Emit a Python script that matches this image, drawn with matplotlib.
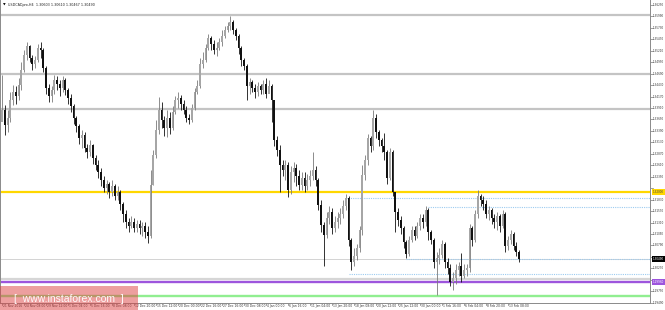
import matplotlib
matplotlib.use('Agg')
import matplotlib.pyplot as plt
import matplotlib.transforms as mtransforms
from matplotlib.patches import Rectangle

# USDCAD H4 candles, two H4 bars per candle here
first_open = 1.3360
closes = [
    1.3386, 1.3352, 1.3368, 1.3409, 1.3427, 1.3418, 1.3443, 1.3477, 1.3511, 1.3532,
    1.3504, 1.3491, 1.3500, 1.3527, 1.3523, 1.3482, 1.3436, 1.3418, 1.3432, 1.3454,
    1.3445, 1.3436, 1.3454, 1.3432, 1.3414, 1.3395, 1.3368, 1.3350, 1.3323, 1.3330,
    1.3300, 1.3291, 1.3307, 1.3277, 1.3261, 1.3246, 1.3227, 1.3209, 1.3218, 1.3200,
    1.3214, 1.3191, 1.3200, 1.3173, 1.3150, 1.3132, 1.3123, 1.3132, 1.3118, 1.3128,
    1.3118, 1.3123, 1.3109, 1.3100, 1.3216, 1.3284, 1.3341, 1.3386, 1.3364, 1.3345,
    1.3368, 1.3345, 1.3382, 1.3409, 1.3414, 1.3400, 1.3386, 1.3368, 1.3364, 1.3391,
    1.3427, 1.3441, 1.3491, 1.3500, 1.3527, 1.3550, 1.3536, 1.3523, 1.3527, 1.3541,
    1.3554, 1.3568, 1.3577, 1.3586, 1.3568, 1.3554, 1.3527, 1.3500, 1.3486, 1.3441,
    1.3450, 1.3436, 1.3427, 1.3441, 1.3432, 1.3445, 1.3423, 1.3441, 1.3409, 1.3318,
    1.3296, 1.3261, 1.3250, 1.3261, 1.3205, 1.3246, 1.3255, 1.3236, 1.3216, 1.3232,
    1.3214, 1.3227, 1.3236, 1.3250, 1.3227, 1.3171, 1.3125, 1.3103, 1.3141, 1.3155,
    1.3118, 1.3132, 1.3141, 1.3150, 1.3168, 1.3187, 1.3091, 1.3041, 1.3055, 1.3073,
    1.3114, 1.3239, 1.3273, 1.3323, 1.3305, 1.3368, 1.3336, 1.3318, 1.3305, 1.3291,
    1.3232, 1.3291, 1.3200, 1.3155, 1.3137, 1.3118, 1.3087, 1.3059, 1.3091, 1.3114,
    1.3100, 1.3123, 1.3141, 1.3132, 1.3159, 1.3109, 1.3091, 1.3041, 1.3050, 1.3057,
    1.3082, 1.3041, 1.3028, 1.2996, 1.3005, 1.3023, 1.3032, 1.3009, 1.3023, 1.3028,
    1.3118, 1.3091, 1.3150, 1.3191, 1.3182, 1.3173, 1.3150, 1.3159, 1.3141, 1.3132,
    1.3146, 1.3123, 1.3150, 1.3078, 1.3091, 1.3105, 1.3078, 1.3064, 1.3049,
]
highs = [
    1.3466, 1.3398, 1.3386, 1.3427, 1.3443, 1.3441, 1.3459, 1.3495, 1.3523, 1.3541,
    1.3534, 1.3511, 1.3509, 1.3536, 1.3541, 1.3527, 1.3486, 1.3445, 1.3441, 1.3466,
    1.3463, 1.3454, 1.3463, 1.3459, 1.3436, 1.3423, 1.3400, 1.3373, 1.3355, 1.3341,
    1.3336, 1.3309, 1.3318, 1.3309, 1.3284, 1.3273, 1.3255, 1.3236, 1.3227, 1.3223,
    1.3227, 1.3218, 1.3214, 1.3205, 1.3177, 1.3159, 1.3141, 1.3146, 1.3141, 1.3137,
    1.3137, 1.3132, 1.3132, 1.3123, 1.3250, 1.3296, 1.3364, 1.3416, 1.3404, 1.3373,
    1.3386, 1.3382, 1.3395, 1.3418, 1.3427, 1.3420, 1.3409, 1.3395, 1.3377, 1.3400,
    1.3436, 1.3454, 1.3504, 1.3518, 1.3536, 1.3559, 1.3554, 1.3545, 1.3541, 1.3550,
    1.3568, 1.3577, 1.3586, 1.3600, 1.3591, 1.3572, 1.3559, 1.3532, 1.3504, 1.3491,
    1.3459, 1.3454, 1.3445, 1.3450, 1.3445, 1.3454, 1.3459, 1.3454, 1.3445, 1.3409,
    1.3327, 1.3307, 1.3273, 1.3273, 1.3268, 1.3259, 1.3268, 1.3264, 1.3250, 1.3246,
    1.3246, 1.3241, 1.3250, 1.3291, 1.3259, 1.3232, 1.3182, 1.3132, 1.3155, 1.3168,
    1.3164, 1.3146, 1.3155, 1.3164, 1.3182, 1.3196, 1.3191, 1.3096, 1.3073, 1.3082,
    1.3123, 1.3261, 1.3284, 1.3332, 1.3327, 1.3386, 1.3377, 1.3341, 1.3323, 1.3334,
    1.3296, 1.3300, 1.3296, 1.3200, 1.3164, 1.3146, 1.3123, 1.3091, 1.3100, 1.3123,
    1.3123, 1.3132, 1.3150, 1.3150, 1.3168, 1.3164, 1.3114, 1.3096, 1.3064, 1.3073,
    1.3091, 1.3087, 1.3050, 1.3037, 1.3019, 1.3037, 1.3041, 1.3062, 1.3037, 1.3037,
    1.3128, 1.3123, 1.3159, 1.3205, 1.3196, 1.3191, 1.3182, 1.3168, 1.3164, 1.3150,
    1.3155, 1.3150, 1.3159, 1.3155, 1.3100, 1.3114, 1.3109, 1.3087, 1.3068,
]
lows = [
    1.3375, 1.3330, 1.3336, 1.3359, 1.3398, 1.3400, 1.3409, 1.3432, 1.3473, 1.3500,
    1.3495, 1.3477, 1.3482, 1.3495, 1.3504, 1.3473, 1.3423, 1.3404, 1.3404, 1.3423,
    1.3432, 1.3418, 1.3427, 1.3420, 1.3400, 1.3382, 1.3355, 1.3336, 1.3309, 1.3300,
    1.3291, 1.3277, 1.3282, 1.3264, 1.3250, 1.3232, 1.3214, 1.3200, 1.3196, 1.3187,
    1.3191, 1.3182, 1.3182, 1.3159, 1.3132, 1.3118, 1.3109, 1.3118, 1.3109, 1.3109,
    1.3105, 1.3100, 1.3096, 1.3084, 1.3096, 1.3216, 1.3277, 1.3332, 1.3345, 1.3327,
    1.3325, 1.3332, 1.3341, 1.3377, 1.3391, 1.3386, 1.3377, 1.3359, 1.3355, 1.3359,
    1.3386, 1.3423, 1.3436, 1.3482, 1.3495, 1.3523, 1.3523, 1.3513, 1.3509, 1.3523,
    1.3532, 1.3550, 1.3563, 1.3568, 1.3559, 1.3545, 1.3513, 1.3486, 1.3477, 1.3409,
    1.3423, 1.3427, 1.3414, 1.3418, 1.3423, 1.3423, 1.3414, 1.3427, 1.3359, 1.3305,
    1.3282, 1.3200, 1.3236, 1.3227, 1.3189, 1.3196, 1.3223, 1.3214, 1.3205, 1.3205,
    1.3200, 1.3205, 1.3214, 1.3227, 1.3214, 1.3159, 1.3109, 1.3032, 1.3096, 1.3128,
    1.3105, 1.3109, 1.3118, 1.3128, 1.3141, 1.3159, 1.3078, 1.3023, 1.3032, 1.3046,
    1.3064, 1.3103, 1.3227, 1.3261, 1.3291, 1.3296, 1.3323, 1.3305, 1.3291, 1.3273,
    1.3218, 1.3227, 1.3191, 1.3109, 1.3123, 1.3105, 1.3073, 1.3050, 1.3055, 1.3087,
    1.3091, 1.3096, 1.3114, 1.3118, 1.3123, 1.3091, 1.3082, 1.3028, 1.2966, 1.3037,
    1.3050, 1.3028, 1.3014, 1.2987, 1.2978, 1.2991, 1.3009, 1.2996, 1.3005, 1.3009,
    1.3019, 1.3078, 1.3087, 1.3141, 1.3168, 1.3159, 1.3141, 1.3137, 1.3128, 1.3118,
    1.3114, 1.3109, 1.3118, 1.3064, 1.3068, 1.3082, 1.3068, 1.3055, 1.3041,
]

date_labels = ['21 Nov 2016', '24 Nov 08:00', '29 Nov 12:00', '1 Dec 04:00', '5 Dec 16:00',
               '8 Dec 08:00', '12 Dec 20:00', '15 Dec 12:00', '20 Dec 00:00', '22 Dec 16:00',
               '27 Dec 16:00', '30 Dec 08:00', '4 Jan 00:00', '6 Jan 16:00', '11 Jan 04:00',
               '13 Jan 20:00', '18 Jan 08:00', '20 Jan 12:00', '25 Jan 12:00', '30 Jan 00:00',
               '1 Feb 16:00', '6 Feb 04:00', '8 Feb 20:00', '13 Feb 08:00']
bars_per_label = 8

price_ticks = [1.36250, 1.35990, 1.35730, 1.35470, 1.35210, 1.34950, 1.34690, 1.34430,
               1.34170, 1.33910, 1.33650, 1.33390, 1.33130, 1.32870, 1.32610, 1.32350,
               1.32090, 1.31830, 1.31570, 1.31310, 1.31050, 1.30790, 1.30530, 1.30270,
               1.30010, 1.29750, 1.29490]

# drawn levels
gray_levels = [1.3602, 1.3467, 1.3389]
yellow_level = 1.3200
purple_shadow = 1.3002
purple_level = 1.2996
green_level = 1.2964
dotted_levels = [1.3187, 1.3166, 1.3048, 1.3014]
dotted_from = [125, 155, 147, 126]

title = 'USDCADpro,H4  1.30603 1.30610 1.30467 1.30490'

W, H = 665, 310
fig = plt.figure(figsize=(W / 100, H / 100), dpi=100)
fig.patch.set_facecolor('white')
ax = fig.add_axes([0, 7 / H, 650 / W, 303 / H])
ax.set_xlim(-2 / 2.75, 648 / 2.75)
ax.set_ylim(1.29485, 1.3636)
ax.set_xticks([])
ax.set_yticks([])
for s in ax.spines.values():
    s.set_color('#8a8a8a')
    s.set_linewidth(0.7)
ax.spines['top'].set_visible(False)

# horizontal levels
for lv in gray_levels:
    ax.axhline(lv, color='#c4c4c4', lw=1.6, zorder=1)
ax.axhline(yellow_level, color='#ffd700', lw=1.6, zorder=1)
ax.axhline(purple_shadow, color='#d6d6d6', lw=1.6, zorder=1)
ax.axhline(purple_level, color='#9d55dd', lw=1.7, zorder=1)
ax.axhline(green_level, color='#90ee90', lw=1.7, zorder=1)
ax.axhline(closes[-1], color='#cccccc', lw=0.6, zorder=1)
xmax = 648 / 2.75
for lv, x0 in zip(dotted_levels, dotted_from):
    ax.hlines(lv, x0, xmax, colors='#9ccbf0', lw=0.8, linestyles=(0, (1, 1)), zorder=1)

# candles
opens = [first_open] + closes[:-1]
for i, (o, h, l, c) in enumerate(zip(opens, highs, lows, closes)):
    if c >= o:
        wick, body = '#7a7a7a', '#a6a6a6'
    else:
        wick, body = '#111111', '#111111'
    ax.vlines(i, l, h, color=wick, lw=0.6, zorder=3)
    ax.bar(i, max(abs(c - o), 0.00006), bottom=min(o, c), width=0.6,
           color=body, lw=0, zorder=4)

# right price scale (labels hidden under the level boxes are skipped)
boxed = [yellow_level, closes[-1], purple_level]
ty = mtransforms.blended_transform_factory(ax.transAxes, ax.transData)
for p in price_ticks:
    ax.plot([1.0, 1.004], [p, p], transform=ty, color='#777777', lw=0.5, clip_on=False)
    if min(abs(p - b) for b in boxed) < 0.0012:
        continue
    ax.text(1.004, p, f'{p:.5f}', transform=ty, fontsize=2.0, color='#333333',
            ha='left', va='center', clip_on=False)
box_font = dict(fontsize=2.0, ha='left', va='center', transform=ty, clip_on=False, zorder=6)
ax.text(1.004, yellow_level, f'{yellow_level:.5f}', color='#444444',
        bbox=dict(boxstyle='square,pad=0.35', fc='#ffd700', ec='none'), **box_font)
ax.text(1.004, closes[-1], f'{closes[-1]:.5f}', color='white',
        bbox=dict(boxstyle='square,pad=0.35', fc='black', ec='none'), **box_font)
ax.text(1.004, purple_level, f'{purple_level:.5f}', color='white',
        bbox=dict(boxstyle='square,pad=0.35', fc='#9d55dd', ec='none'), **box_font)

# time scale
tx = mtransforms.blended_transform_factory(ax.transData, ax.transAxes)
for k, lab in enumerate(date_labels):
    xb = k * bars_per_label
    ax.plot([xb, xb], [0, -0.008], transform=tx, color='#777777', lw=0.5, clip_on=False)
    ax.text(xb + 0.4, -0.004, lab, transform=tx, fontsize=2.2, color='#333333',
            ha='left', va='top', clip_on=False)

# header
fig.text(3 / W, 1 - 5 / H, '\u25bc', fontsize=2.5, color='black', va='center')
fig.text(8 / W, 1 - 5 / H, title, fontsize=2.4, color='#222222', va='center')

# watermark
fig.add_artist(Rectangle((0, 0), 138 / W, 24 / H, transform=fig.transFigure,
                         facecolor='#dc4040', edgecolor='none', alpha=0.5, zorder=10))
fig.text(69 / W, 11 / H, '[  www.instaforex.com  ]', fontsize=7.5, color='white',
         family='Liberation Sans', ha='center', va='center', alpha=0.95, zorder=11)

fig.savefig('out.png', dpi=100, facecolor='white')
